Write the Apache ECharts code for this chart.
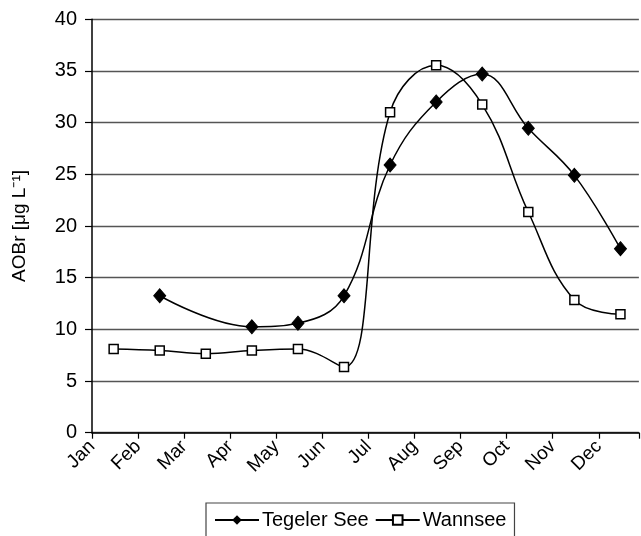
<!DOCTYPE html>
<html>
<head>
<meta charset="utf-8">
<script src="https://cdn.jsdelivr.net/npm/echarts@6/dist/echarts.min.js"></script>
<style>
html,body{margin:0;padding:0;background:#fff;}
#c{width:641px;height:536px;}
</style>
</head>
<body>
<div id="c"></div>
<script>
var months = ['Jan','Feb','Mar','Apr','May','Jun','Jul','Aug','Sep','Oct','Nov','Dec'];
var tegelerMonthIdx = [1,3,4,5,6,7,8,9,10,11];
var tegelerValues = [13.25,10.25,10.6,13.25,25.9,32.0,34.7,29.45,24.9,17.8];
var wannseeMonthIdx = [0,1,2,3,4,5,6,7,8,9,10,11];
var wannseeValues = [8.1,7.95,7.65,7.95,8.1,6.35,31.0,35.55,31.75,21.35,12.85,11.45];
var yTicks = [0,5,10,15,20,25,30,35,40];

function pairs(idx, vals){
  return idx.map(function(m,i){ return [m + 0.47, vals[i]]; });
}

var font = 'Liberation Sans, Arial, sans-serif';
var chart = echarts.init(document.getElementById('c'), null, {renderer:'canvas'});
chart.setOption({
  animation:false,
  backgroundColor:'#fff',
  textStyle:{fontFamily:font,color:'#000'},
  grid:{left:92,right:0,top:19.3,bottom:103.3,containLabel:false},
  xAxis:{
    type:'value',min:0,max:11.87,interval:1,
    axisLine:{show:true,lineStyle:{color:'#000',width:1.5}},
    axisTick:{show:true,length:6,lineStyle:{color:'#000',width:1.2}},
    splitLine:{show:false},
    axisLabel:{
      rotate:45,fontSize:19,color:'#000',fontFamily:font,margin:11,
      formatter:function(v){ var i=Math.round(v); return (Math.abs(v-i)<1e-6 && i>=0 && i<12) ? months[i] : ''; }
    }
  },
  yAxis:{
    type:'value',min:yTicks[0],max:yTicks[yTicks.length-1],interval:5,
    name:'AOBr [μg L⁻¹]',nameLocation:'middle',nameGap:63,
    nameTextStyle:{fontSize:19,color:'#000',fontFamily:font},
    axisLine:{show:true,lineStyle:{color:'#000',width:1.5}},
    axisTick:{show:true,length:7,lineStyle:{color:'#000',width:1.2}},
    splitLine:{show:true,lineStyle:{color:'#555',width:1.3}},
    axisLabel:{fontSize:20,color:'#000',fontFamily:font,margin:15}
  },
  legend:{
    left:206,top:503,
    data:['Tegeler See','Wannsee'],
    orient:'horizontal',
    borderColor:'#444',borderWidth:1.2,
    padding:[7,8,8,8],
    itemGap:6,itemWidth:44,itemHeight:12,
    textStyle:{fontSize:20,color:'#000',fontFamily:font,padding:[0,0,0,-2]}
  },
  series:[
    {
      name:'Tegeler See',type:'line',smooth:0.4,
      data:pairs(tegelerMonthIdx,tegelerValues),
      symbol:'diamond',symbolSize:[12,14],
      lineStyle:{color:'#000',width:1.5},
      itemStyle:{color:'#000',borderColor:'#000'}
    },
    {
      name:'Wannsee',type:'line',smooth:0.4,
      data:pairs(wannseeMonthIdx,wannseeValues),
      symbol:'rect',symbolSize:9,
      lineStyle:{color:'#000',width:1.5},
      itemStyle:{color:'#fff',borderColor:'#000',borderWidth:1.5}
    }
  ]
});
</script>
</body>
</html>
